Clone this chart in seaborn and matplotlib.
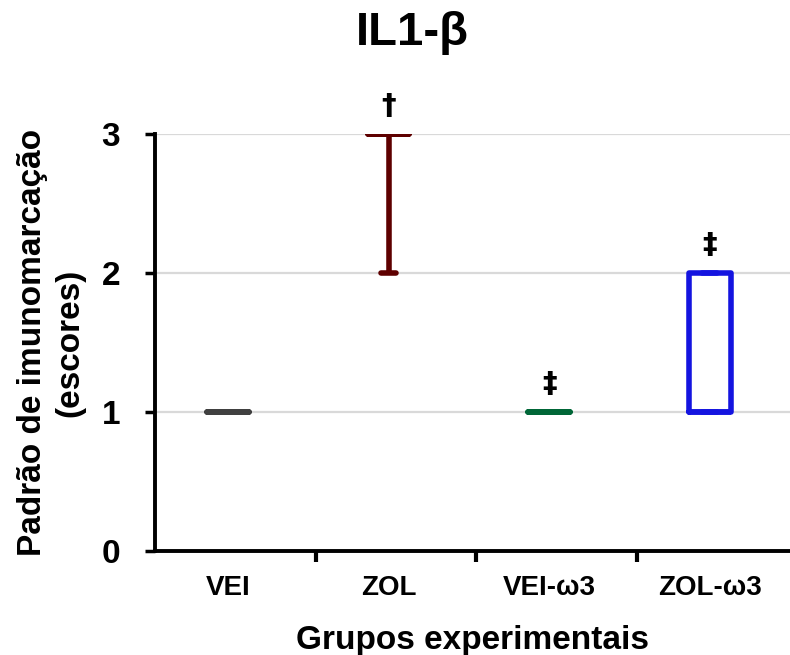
import matplotlib
matplotlib.use("Agg")
import matplotlib.pyplot as plt
import seaborn as sns
import pandas as pd

# ---- data (scores per group) ----
groups = ["VEI", "ZOL", "VEI-ω3", "ZOL-ω3"]
scores_vei = [1, 1, 1, 1, 1]
scores_zol = [2, 3, 3, 3, 3]
scores_vei_w3 = [1, 1, 1, 1, 1]
scores_zol_w3 = [1, 1, 1, 2, 2]
colors = ["#404040", "#5e0000", "#006637", "#1414e0"]
marks = ["", "†", "‡", "‡"]
yticks = [0, 1, 2, 3]

title = "IL1-β"
xlabel = "Grupos experimentais"
ylabel = "Padrão de imunomarcação\n(escores)"

rows = []
for g, vals in zip(groups, [scores_vei, scores_zol, scores_vei_w3, scores_zol_w3]):
    for v in vals:
        rows.append({"grupo": g, "escore": v})
df = pd.DataFrame(rows)

sns.set_theme(style="white")
plt.rcParams["font.family"] = ["Liberation Sans", "DejaVu Sans"]
plt.rcParams["font.weight"] = "bold"
for k in ["text.color", "axes.labelcolor", "xtick.color", "ytick.color"]:
    plt.rcParams[k] = "black"

fig = plt.figure(figsize=(7.9, 6.55), dpi=100)
ax = fig.add_axes([155 / 790, 104 / 655, 635 / 790, 417 / 655])

sns.boxplot(data=df, x="grupo", y="escore", hue="grupo", order=groups,
            hue_order=groups, palette=colors, fill=False, width=0.26,
            linewidth=4, whis=(0, 100), showfliers=False, legend=False,
            capwidths=0.09, ax=ax)

ax.set_xlim(-0.455, 3.5)
ax.set_ylim(0, 3)
ax.set_yticks(yticks)
ax.set_yticklabels([str(t) for t in yticks], fontsize=24, fontweight="bold")
ax.set_xticks(range(len(groups)))
ax.set_xticklabels(groups, fontsize=20, fontweight="bold")
ax.set_xticks([0.545, 1.545, 2.545], minor=True)
ax.tick_params(axis="x", which="major", length=0, pad=17, colors="black")
ax.tick_params(axis="x", which="minor", length=8, width=3, direction="out",
               color="black", bottom=True)
ax.tick_params(axis="y", which="major", length=7, width=2.5, direction="out",
               pad=18, colors="black", left=True)

ax.yaxis.grid(True, color="#d9d9d9", linewidth=1.6)
ax.xaxis.grid(False)
ax.set_axisbelow(True)

for s in ["top", "right"]:
    ax.spines[s].set_visible(False)
for s in ["left", "bottom"]:
    ax.spines[s].set_color("black")
    ax.spines[s].set_linewidth(2.8)

ax.set_xlabel(xlabel, fontsize=24, fontweight="bold", color="black")
ax.xaxis.set_label_coords(0.5, -0.178)
ax.set_ylabel(ylabel, fontsize=24, fontweight="bold", linespacing=1.25,
              color="black")
ax.yaxis.set_label_coords(-0.11, 0.5)

tops = [max(v) for v in [scores_vei, scores_zol, scores_vei_w3, scores_zol_w3]]
for i, (m, t) in enumerate(zip(marks, tops)):
    if m:
        ax.annotate(m, xy=(i, t), xytext=(0, 10), textcoords="offset points",
                    ha="center", va="bottom", fontsize=21, fontweight="bold",
                    family=["DejaVu Sans"], color="black")

fig.text(412 / 790, 1 - 11 / 655, title, ha="center", va="top",
         fontsize=34, fontweight="bold", color="black")

fig.savefig("out.png", dpi=100)
